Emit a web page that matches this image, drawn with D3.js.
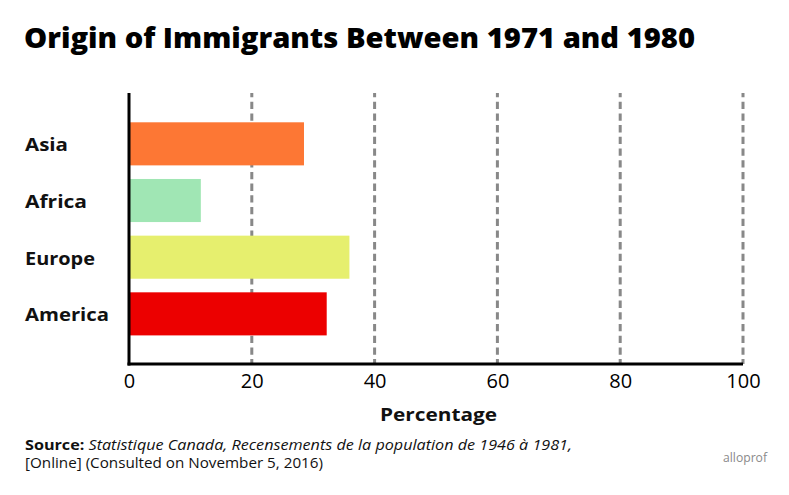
<!DOCTYPE html>
<html>
<head>
    <meta charset="utf-8">
    <script src="https://d3js.org/d3.v7.min.js"></script>
    <style>
        body { margin: 0; background: #fff; }
        text { font-family: "Open Sans", Lato, sans-serif; }
    </style>
</head>
<body>
    <svg width="789" height="495"></svg>

    <script>
        // data
        const regions = ["Asia", "Africa", "Europe", "America"]
        const percentages = [28.5, 11.7, 35.9, 32.2]
        const barColors = ["#fd7734", "#a0e6b4", "#e6ef6e", "#ec0000"]
        const xTicks = [0, 20, 40, 60, 80, 100]

        const svg = d3.select("svg")

        const x = d3.scaleLinear().domain([0, 100]).range([129, 743])
        const y = d3.scaleBand()
            .domain(regions)
            .range([108.7, 349])
            .paddingInner(0.24)
            .paddingOuter(0.24)

        const plotTop = 93
        const plotBottom = 364

        // squeeze / stretch a text to the width it has in the reference
        function fitWidth(sel, w) {
            sel.attr("textLength", w).attr("lengthAdjust", "spacingAndGlyphs")
        }

        // title
        svg.append("text")
            .attr("x", 24)
            .attr("y", 48)
            .attr("font-size", 29)
            .attr("font-weight", 800)
            .attr("fill", "#000")
            .text("Origin of Immigrants Between 1971 and 1980")
            .call(fitWidth, 671)

        // dashed grid lines
        svg.selectAll("line.grid")
            .data(xTicks.filter(d => d > 0))
            .enter()
            .append("line")
            .attr("class", "grid")
            .attr("x1", d => x(d))
            .attr("x2", d => x(d))
            .attr("y1", plotTop)
            .attr("y2", plotBottom)
            .attr("stroke", "#888")
            .attr("stroke-width", 3)
            .attr("stroke-dasharray", "7.3,4.4")
            .attr("stroke-dashoffset", 3)

        // bars
        svg.selectAll("rect.bar")
            .data(regions)
            .enter()
            .append("rect")
            .attr("class", "bar")
            .attr("x", x(0))
            .attr("y", d => y(d))
            .attr("width", (d, i) => x(percentages[i]) - x(0))
            .attr("height", y.bandwidth())
            .attr("fill", (d, i) => barColors[i])

        // category labels
        const labelWidths = [43, 62, 70, 84]
        svg.selectAll("text.region")
            .data(regions)
            .enter()
            .append("text")
            .attr("class", "region")
            .attr("x", 25)
            .attr("y", d => y(d) + y.bandwidth() / 2)
            .attr("dy", "0.42em")
            .attr("font-size", 18)
            .attr("font-weight", 700)
            .attr("fill", "#111")
            .text(d => d)
            .attr("textLength", (d, i) => labelWidths[i])
            .attr("lengthAdjust", "spacingAndGlyphs")

        // axes lines
        svg.append("line")
            .attr("x1", x(0)).attr("x2", x(0))
            .attr("y1", plotTop).attr("y2", plotBottom + 1.5)
            .attr("stroke", "#000").attr("stroke-width", 3)
        svg.append("line")
            .attr("x1", x(0) - 1.5).attr("x2", x(100))
            .attr("y1", plotBottom).attr("y2", plotBottom)
            .attr("stroke", "#000").attr("stroke-width", 3)

        // tick labels
        const xAxis = svg.append("g")
            .attr("transform", `translate(0, ${plotBottom})`)
            .call(d3.axisBottom(x).tickValues(xTicks).tickSize(0).tickPadding(0))
        xAxis.select(".domain").remove()
        xAxis.selectAll("text")
            .attr("dy", null)
            .attr("y", 24)
            .attr("font-size", 20)
            .attr("font-family", "'Open Sans', sans-serif")
            .attr("fill", "#000")

        // axis title
        svg.append("text")
            .attr("x", 438.5)
            .attr("y", 421)
            .attr("text-anchor", "middle")
            .attr("font-size", 18.5)
            .attr("font-weight", 700)
            .attr("fill", "#111")
            .text("Percentage")
            .call(fitWidth, 117)

        // source
        const src = svg.append("text")
            .attr("x", 25)
            .attr("y", 450)
            .attr("font-size", 14)
            .attr("fill", "#111")
        src.append("tspan").attr("font-weight", 700).text("Source: ")
        src.append("tspan").attr("font-style", "italic")
            .text("Statistique Canada, Recensements de la population de 1946 à 1981,")
        src.call(fitWidth, 547)
        svg.append("text")
            .attr("x", 25)
            .attr("y", 467.5)
            .attr("font-size", 14)
            .attr("fill", "#111")
            .text("[Online] (Consulted on November 5, 2016)")
            .call(fitWidth, 298)

        svg.append("text")
            .attr("x", 767)
            .attr("y", 462)
            .attr("text-anchor", "end")
            .attr("font-size", 13)
            .attr("fill", "#8a8a8a")
            .text("alloprof")
            .call(fitWidth, 44)
    </script>
</body>
</html>
